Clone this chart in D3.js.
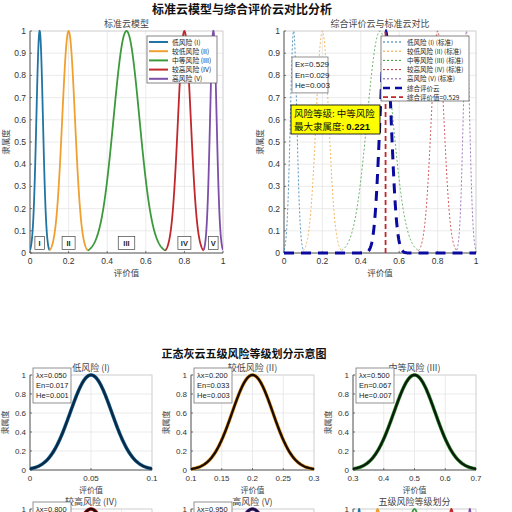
<!DOCTYPE html>
<html><head><meta charset="utf-8">
<script src="https://cdn.jsdelivr.net/npm/d3@7"></script>
<style>
body{margin:0;background:#fff;}
svg{display:block;}
text{font-family:"Liberation Sans",Arial,sans-serif;}
.cjk{font-family:"Noto Sans CJK SC","Noto Sans",sans-serif;}
</style></head>
<body>
<svg id="c" width="512" height="512"></svg>
<script>
// ---- data ----
const levelNames = ["低风险 (I)", "较低风险 (II)", "中等风险 (III)", "较高风险 (IV)", "高风险 (V)"];
const romanLabels = ["I", "II", "III", "IV", "V"];
const levelEx = [0.05, 0.2, 0.5, 0.8, 0.95];
const levelEn = [0.017, 0.033, 0.067, 0.033, 0.017];
const levelHe = [0.001, 0.003, 0.007, 0.003, 0.001];
const levelLo = [0, 0.1, 0.3, 0.7, 0.9];
const levelHi = [0.1, 0.3, 0.7, 0.9, 1.0];
const levelColors = ["#2274a5", "#f0a030", "#3c9a3c", "#c0282d", "#7e4fa8"];
const levelDark = ["#0b2845", "#1a0c00", "#0c1f0c", "#2a0608", "#1c1040"];
const compEx = 0.529, compEn = 0.029, compHe = 0.003;
const riskText = "风险等级: 中等风险";
const maxMemb = 0.221;
const yTicksTop = [0,0.1,0.2,0.3,0.4,0.5,0.6,0.7,0.8,0.9,1];
const xTicksTop = [0,0.2,0.4,0.6,0.8,1];
const yTicksSmall = [0,0.2,0.4,0.6,0.8,1];
const xTicksSmall = [[0,0.05,0.1],[0.1,0.15,0.2,0.25,0.3],[0.3,0.4,0.5,0.6,0.7],[0.7,0.75,0.8,0.85,0.9],[0.9,0.95,1],[0,0.2,0.4,0.6,0.8,1]];
const xDomSmall = [[0,0.1],[0.1,0.3],[0.3,0.7],[0.7,0.9],[0.9,1],[0,1]];

const svg = d3.select("#c");
const H = 512;
const gauss = (x, ex, en) => Math.exp(-((x-ex)*(x-ex))/(2*en*en));
function samples(lo, hi, n){ return d3.range(n+1).map(i => lo + (hi-lo)*i/n); }

function axes(o){
  const g = svg.append("g");
  const x = d3.scaleLinear().domain(o.xd).range([o.x0,o.x1]);
  const y = d3.scaleLinear().domain([0,1]).range([o.y1,o.y0]);
  const cid = "clip"+Math.round(o.x0)+"_"+Math.round(o.y0);
  svg.append("clipPath").attr("id",cid).append("rect").attr("x",o.x0).attr("y",o.y0-2).attr("width",o.x1-o.x0).attr("height",o.y1-o.y0+4);
  g.append("rect").attr("x",o.x0).attr("y",o.y0).attr("width",o.x1-o.x0).attr("height",o.y1-o.y0).attr("fill","#fff");
  g.selectAll(".gx").data(o.xt).join("line").attr("x1",d=>x(d)).attr("x2",d=>x(d)).attr("y1",o.y0).attr("y2",o.y1).attr("stroke","#e6e6e6").attr("stroke-width",0.8);
  g.selectAll(".gy").data(o.yt).join("line").attr("y1",d=>y(d)).attr("y2",d=>y(d)).attr("x1",o.x0).attr("x2",o.x1).attr("stroke","#e6e6e6").attr("stroke-width",0.8);
  g.append("rect").attr("x",o.x0).attr("y",o.y0).attr("width",o.x1-o.x0).attr("height",o.y1-o.y0).attr("fill","none").attr("stroke","#d0d0d0").attr("stroke-width",0.8);
  g.append("line").attr("x1",o.x0).attr("x2",o.x1).attr("y1",o.y1).attr("y2",o.y1).attr("stroke","#444").attr("stroke-width",0.8);
  g.append("line").attr("x1",o.x0).attr("x2",o.x0).attr("y1",o.y0).attr("y2",o.y1).attr("stroke","#444").attr("stroke-width",0.8);
  if(o.y1+11 < H) g.selectAll(".tx").data(o.xt).join("text").attr("x",d=>x(d)).attr("y",o.y1+11).attr("text-anchor","middle").attr("font-size",o.fs).attr("fill","#333").text(d=>d3.format("~g")(d));
  g.selectAll(".ty").data(o.yt.filter(d=>y(d)+3 < H+4)).join("text").attr("x",o.x0-4).attr("y",d=>y(d)+3).attr("text-anchor","end").attr("font-size",o.fs).attr("fill","#333").text(d=>d3.format("~g")(d));
  g.selectAll(".tkx").data(o.xt).join("line").attr("x1",d=>x(d)).attr("x2",d=>x(d)).attr("y1",o.y1).attr("y2",o.y1-2).attr("stroke","#444").attr("stroke-width",0.7);
  g.selectAll(".tky").data(o.yt).join("line").attr("y1",d=>y(d)).attr("y2",d=>y(d)).attr("x1",o.x0).attr("x2",o.x0+2).attr("stroke","#444").attr("stroke-width",0.7);
  if(o.title) g.append("text").attr("class","cjk").attr("x",(o.x0+o.x1)/2).attr("y",o.y0-4).attr("text-anchor","middle").attr("font-size",o.tfs||9).attr("fill","#444").text(o.title);
  if(o.xl && o.y1+23 < H) g.append("text").attr("class","cjk").attr("x",(o.x0+o.x1)/2).attr("y",o.y1+23).attr("text-anchor","middle").attr("font-size",o.fs).attr("fill","#444").text(o.xl);
  if(o.yl && (o.y0+o.y1)/2 < H) g.append("text").attr("class","cjk").attr("transform",`translate(${o.ylx},${(o.y0+o.y1)/2}) rotate(-90)`).attr("text-anchor","middle").attr("font-size",o.fs).attr("fill","#444").text(o.yl);
  const plot = svg.append("g").attr("clip-path",`url(#${cid})`);
  return {x,y,plot};
}

function textBox(px, py, w, lines, fs, lh){
  const g = svg.append("g");
  g.append("rect").attr("x",px).attr("y",py).attr("width",w).attr("height",lines.length*lh+5).attr("fill","#fff").attr("stroke","#777").attr("stroke-width",0.8);
  lines.forEach((t,i)=>g.append("text").attr("x",px+3).attr("y",py+lh*(i+1)).attr("font-size",fs).attr("fill","#222").text(t));
}

// ---- suptitles ----
svg.append("text").attr("class","cjk").attr("x",242).attr("y",14).attr("text-anchor","middle").attr("font-size",12).attr("font-weight","bold").attr("fill","#111").text("标准云模型与综合评价云对比分析");
svg.append("text").attr("class","cjk").attr("x",244).attr("y",358).attr("text-anchor","middle").attr("font-size",11).attr("font-weight","bold").attr("fill","#111").text("正态灰云五级风险等级划分示意图");

// ---- top-left ----
{
  const A = axes({x0:30,x1:223,y0:31,y1:253,xd:[0,1],xt:xTicksTop,yt:yTicksTop,fs:8.5,title:"标准云模型",xl:"评价值",yl:"隶属度",ylx:9});
  const line = d3.line().x(d=>A.x(d[0])).y(d=>A.y(d[1]));
  levelEx.forEach((ex,i)=>{
    const pts = samples(levelLo[i],levelHi[i],200).map(v=>[v,gauss(v,ex,levelEn[i])]);
    A.plot.append("path").attr("d",line(pts)).attr("fill","none").attr("stroke",levelColors[i]).attr("stroke-width",1.8);
  });
  levelEx.forEach((ex,i)=>{
    const w = romanLabels[i].length*3.5+6;
    svg.append("rect").attr("x",A.x(ex)-w/2).attr("y",A.y(0.07)-1).attr("width",w).attr("height",13).attr("fill","#fff").attr("stroke","#444").attr("stroke-width",0.7);
    svg.append("text").attr("x",A.x(ex)).attr("y",A.y(0.07)+9).attr("text-anchor","middle").attr("font-size",7.5).attr("font-weight","bold").attr("fill","#222").text(romanLabels[i]);
  });
  const lg = svg.append("g");
  lg.append("rect").attr("x",147).attr("y",36).attr("width",70).attr("height",47).attr("fill","#fff").attr("stroke","#666").attr("stroke-width",0.8);
  levelNames.forEach((n,i)=>{
    const yy = 42+i*9.2;
    lg.append("line").attr("x1",149).attr("x2",168).attr("y1",yy).attr("y2",yy).attr("stroke",levelColors[i]).attr("stroke-width",2);
    lg.append("text").attr("class","cjk").attr("x",172).attr("y",yy+2.5).attr("font-size",6.8).attr("fill","#222").text(n);
  });
}

// ---- top-right ----
{
  const A = axes({x0:284,x1:476,y0:31,y1:253,xd:[0,1],xt:xTicksTop,yt:yTicksTop,fs:8.5,title:"综合评价云与标准云对比",xl:"评价值",yl:"隶属度",ylx:263});
  const line = d3.line().x(d=>A.x(d[0])).y(d=>A.y(d[1]));
  levelEx.forEach((ex,i)=>{
    const pts = samples(levelLo[i],levelHi[i],200).map(v=>[v,gauss(v,ex,levelEn[i])]);
    A.plot.append("path").attr("d",line(pts)).attr("fill","none").attr("stroke",levelColors[i]).attr("stroke-width",0.9).attr("stroke-dasharray","2,2").attr("opacity",0.85);
  });
  const cp = samples(0,1,400).map(v=>[v,gauss(v,compEx,compEn)]);
  A.plot.append("path").attr("d",line(cp)).attr("fill","none").attr("stroke","#0a0aa0").attr("stroke-width",3).attr("stroke-dasharray","10,7");
  A.plot.append("line").attr("x1",A.x(compEx)).attr("x2",A.x(compEx)).attr("y1",A.y(0)).attr("y2",A.y(1)).attr("stroke","#c0282d").attr("stroke-width",1.8).attr("stroke-dasharray","5,3");
  textBox(292,57,36,["Ex="+compEx.toFixed(3),"En="+compEn.toFixed(3),"He="+compHe.toFixed(3)],8,10.3);
  const yb = svg.append("g");
  yb.append("rect").attr("x",291).attr("y",105).attr("width",89).attr("height",29).attr("fill","#ffff00").attr("stroke","#111").attr("stroke-width",0.9);
  yb.append("text").attr("class","cjk").attr("x",294).attr("y",117).attr("font-size",9.5).attr("fill","#111").text(riskText);
  const t2 = yb.append("text").attr("class","cjk").attr("x",294).attr("y",130).attr("font-size",9.5).attr("fill","#111");
  t2.append("tspan").text("最大隶属度: ");
  t2.append("tspan").attr("font-weight","bold").attr("font-family","Liberation Sans, Arial, sans-serif").text(maxMemb.toFixed(3));
  const lg = svg.append("g");
  lg.append("rect").attr("x",381).attr("y",36).attr("width",88).attr("height",65).attr("fill","#fff").attr("stroke","#666").attr("stroke-width",0.8);
  const entries = levelNames.map((n,i)=>({t:n+" (标准)",c:levelColors[i],w:1,da:"2,2"}))
    .concat([{t:"综合评价云",c:"#0a0aa0",w:2.6,da:"7,5"},{t:"综合评价值="+compEx.toFixed(3),c:"#c0282d",w:1.8,da:"5,3"}]);
  entries.forEach((e,i)=>{
    const yy = 42+i*9.2;
    lg.append("line").attr("x1",383).attr("x2",403).attr("y1",yy).attr("y2",yy).attr("stroke",e.c).attr("stroke-width",e.w).attr("stroke-dasharray",e.da);
    lg.append("text").attr("class","cjk").attr("x",407).attr("y",yy+2.5).attr("font-size",6.5).attr("fill","#222").text(e.t);
  });
}

// ---- bottom grid ----
const cols = [[30,152],[191,314],[353,476]];
const rows = [[375,470],[509,604]];
const titles = levelNames.concat(["五级风险等级划分"]);
for(let k=0;k<6;k++){
  const r = Math.floor(k/3), c = k%3;
  const A = axes({x0:cols[c][0],x1:cols[c][1],y0:rows[r][0],y1:rows[r][1],xd:xDomSmall[k],xt:xTicksSmall[k],yt:yTicksSmall,fs:8,title:titles[k],xl:"评价值",yl:"隶属度",ylx:cols[c][0]-22});
  const line = d3.line().x(d=>A.x(d[0])).y(d=>A.y(d[1]));
  if(k<5){
    const pts = samples(levelLo[k],levelHi[k],200).map(v=>[v,gauss(v,levelEx[k],levelEn[k])]);
    A.plot.append("path").attr("d",line(pts)).attr("fill","none").attr("stroke",levelColors[k]).attr("stroke-width",3.6);
    A.plot.append("path").attr("d",line(pts)).attr("fill","none").attr("stroke",levelDark[k]).attr("stroke-width",2.4);
    textBox(cols[c][0]+3,rows[r][0]-7,38,["λx="+levelEx[k].toFixed(3),"En="+levelEn[k].toFixed(3),"He="+levelHe[k].toFixed(3)],7.5,10);
  } else {
    levelEx.forEach((ex,i)=>{
      const pts = samples(levelLo[i],levelHi[i],200).map(v=>[v,gauss(v,ex,levelEn[i])]);
      A.plot.append("path").attr("d",line(pts)).attr("fill","none").attr("stroke",levelColors[i]).attr("stroke-width",1.8);
    });
  }
}
</script>
</body></html>
